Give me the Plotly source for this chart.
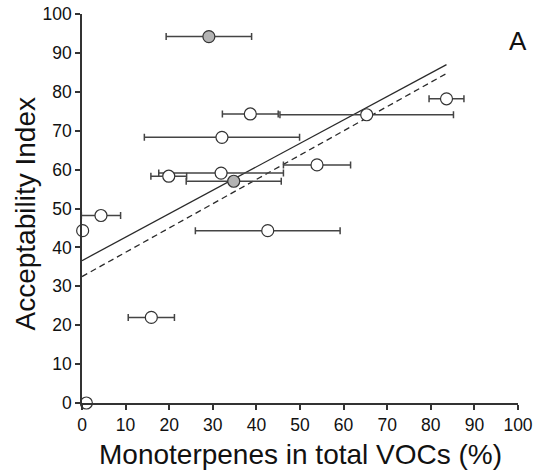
import plotly.graph_objects as go

# Data
mono_pct = [29.1, 38.6, 65.3, 32.1, 83.6, 53.9, 31.9, 19.9, 34.8, 4.35, 0.15, 42.6, 15.9, 1.0]
accept_idx = [94.2, 74.3, 74.1, 68.3, 78.2, 61.2, 59.1, 58.3, 57.0, 48.2, 44.3, 44.3, 22.0, 0.0]
mono_err = [9.8, 6.4, 19.9, 17.8, 4.0, 7.7, 14.3, 4.1, 10.9, 4.5, 0.0, 16.6, 5.3, 0.0]
is_gray = [True, False, False, False, False, False, False, False, True, False, False, False, False, False]

fit_x = [0.0, 83.6]
fit_solid_y = [36.6, 87.0]
fit_dashed_y = [32.5, 84.7]

x_ticks = list(range(0, 101, 10))
y_ticks = list(range(0, 101, 10))

axis_col = "#333333"
font_fam = "Liberation Sans, Arial, sans-serif"

fig = go.Figure()

fig.add_trace(go.Scatter(x=fit_x, y=fit_solid_y, mode="lines",
                         line=dict(color="#2a2a2a", width=1.3), showlegend=False, hoverinfo="skip"))
fig.add_trace(go.Scatter(x=fit_x, y=fit_dashed_y, mode="lines",
                         line=dict(color="#2a2a2a", width=1.3, dash="6px,4px"), showlegend=False, hoverinfo="skip"))

fill = ["#b3b3b3" if g else "#ffffff" for g in is_gray]
fig.add_trace(go.Scatter(
    x=mono_pct, y=accept_idx, mode="markers",
    marker=dict(size=12, color=fill, line=dict(color="#333333", width=1.2)),
    error_x=dict(type="data", array=mono_err, visible=True, color="#444444", thickness=1.5, width=3.5),
    cliponaxis=False, showlegend=False))

axis_common = dict(range=[0, 100], showgrid=False, zeroline=False, showline=True,
                   linecolor=axis_col, linewidth=1.5, ticks="outside", ticklen=5,
                   tickwidth=1.5, tickcolor=axis_col, automargin=False,
                   tickfont=dict(family=font_fam, size=17.5, color="#111111"))

fig.update_xaxes(tickvals=x_ticks, **axis_common)
fig.update_yaxes(tickvals=y_ticks, **axis_common)

fig.update_layout(
    width=540, height=475,
    margin=dict(l=82, r=22, t=14, b=72),
    paper_bgcolor="white", plot_bgcolor="white",
    annotations=[
        dict(text="Monoterpenes in total VOCs (%)", xref="paper", yref="paper", x=0.5, y=0,
             yshift=-51, xanchor="center", yanchor="middle", showarrow=False,
             font=dict(family=font_fam, size=28, color="#111111")),
        dict(text="Acceptability Index", xref="paper", yref="paper", x=0, y=0.5,
             xshift=-57, yshift=-6, xanchor="center", yanchor="middle", textangle=-90, showarrow=False,
             font=dict(family=font_fam, size=28, color="#111111")),
        dict(text="A", xref="x", yref="y", x=100, y=93, xanchor="center", yanchor="middle",
             showarrow=False, font=dict(family=font_fam, size=26, color="#111111")),
    ],
)

fig.write_html("out.html")
